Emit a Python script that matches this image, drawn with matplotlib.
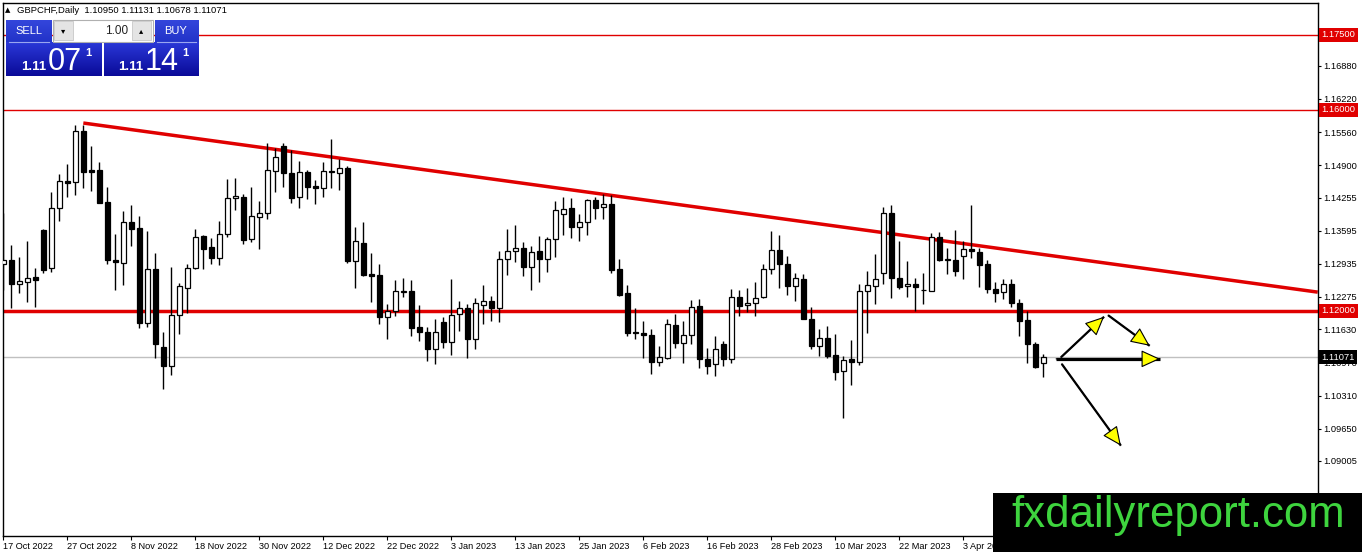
import numpy as np
import matplotlib
matplotlib.use('Agg')
import matplotlib.pyplot as plt
from matplotlib.patches import Rectangle
from matplotlib.colors import LinearSegmentedColormap
import matplotlib.transforms as mtransforms

plt.rcParams['font.family'] = ['Liberation Sans', 'DejaVu Sans']

# ---------------- data ----------------
symbol = "GBPCHF,Daily"
opens = [1.1294, 1.1302, 1.1253, 1.1258, 1.1267, 1.1361, 1.1285, 1.1404, 1.1458, 1.1456,
         1.1558, 1.1480, 1.1480, 1.1417, 1.1302, 1.1296, 1.1377, 1.1365, 1.1176, 1.1283,
         1.1127, 1.1089, 1.1191, 1.1246, 1.1285, 1.1348, 1.1326, 1.1306, 1.1352, 1.1424,
         1.1427, 1.1342, 1.1386, 1.1394, 1.1479, 1.1528, 1.1475, 1.1427, 1.1477, 1.1449,
         1.1444, 1.1478, 1.1474, 1.1485, 1.1300, 1.1334, 1.1273, 1.1271, 1.1187, 1.1200,
         1.1238, 1.1239, 1.1167, 1.1157, 1.1123, 1.1177, 1.1138, 1.1193, 1.1205, 1.1144,
         1.1211, 1.1219, 1.1206, 1.1304, 1.1319, 1.1324, 1.1288, 1.1319, 1.1304, 1.1342,
         1.1392, 1.1404, 1.1366, 1.1376, 1.1421, 1.1406, 1.1413, 1.1283, 1.1236, 1.1158,
         1.1155, 1.1152, 1.1098, 1.1106, 1.1171, 1.1136, 1.1151, 1.1209, 1.1104, 1.1093,
         1.1133, 1.1104, 1.1228, 1.1211, 1.1215, 1.1228, 1.1283, 1.1320, 1.1294, 1.1250,
         1.1263, 1.1184, 1.1130, 1.1145, 1.1112, 1.1079, 1.1103, 1.1098, 1.1240, 1.1250,
         1.1275, 1.1394, 1.1265, 1.1249, 1.1254, 1.1241, 1.1240, 1.1346, 1.1302, 1.1302,
         1.1310, 1.1322, 1.1316, 1.1294, 1.1244, 1.1237, 1.1254, 1.1215, 1.1181, 1.1133,
         1.10950]
highs = [1.1394, 1.1331, 1.1308, 1.1339, 1.1285, 1.1363, 1.1437, 1.1472, 1.1492, 1.1570,
         1.1570, 1.1528, 1.1497, 1.1446, 1.1353, 1.1399, 1.1410, 1.1389, 1.1358, 1.1314,
         1.1157, 1.1288, 1.1256, 1.1293, 1.1362, 1.1351, 1.1344, 1.1379, 1.1462, 1.1464,
         1.1432, 1.1446, 1.1419, 1.1534, 1.1524, 1.1535, 1.1520, 1.1498, 1.1480, 1.1460,
         1.1497, 1.1542, 1.1502, 1.1489, 1.1367, 1.1376, 1.1314, 1.1294, 1.1213, 1.1261,
         1.1266, 1.1262, 1.1211, 1.1167, 1.1184, 1.1188, 1.1264, 1.1219, 1.1213, 1.1225,
         1.1251, 1.1229, 1.1319, 1.1363, 1.1370, 1.1336, 1.1329, 1.1349, 1.1346, 1.1419,
         1.1426, 1.1424, 1.1393, 1.1423, 1.1426, 1.1432, 1.1431, 1.1304, 1.1251, 1.1206,
         1.1180, 1.1164, 1.1130, 1.1183, 1.1193, 1.1180, 1.1221, 1.1224, 1.1125, 1.1150,
         1.1140, 1.1243, 1.1241, 1.1245, 1.1258, 1.1293, 1.1359, 1.1351, 1.1309, 1.1276,
         1.1273, 1.1207, 1.1164, 1.1170, 1.1154, 1.1110, 1.1142, 1.1253, 1.1279, 1.1312,
         1.1406, 1.1411, 1.1339, 1.1299, 1.1266, 1.1276, 1.1354, 1.1356, 1.1324, 1.1361,
         1.1338, 1.1411, 1.1324, 1.1301, 1.1258, 1.1264, 1.1264, 1.1223, 1.1199, 1.1137,
         1.11131]
lows = [1.1241, 1.1205, 1.1236, 1.1218, 1.1208, 1.1276, 1.1278, 1.1379, 1.1427, 1.1431,
        1.1444, 1.1439, 1.1414, 1.1294, 1.1241, 1.1251, 1.1328, 1.1166, 1.1168, 1.1106,
        1.1043, 1.1072, 1.1154, 1.1195, 1.1283, 1.1283, 1.1293, 1.1291, 1.1346, 1.1401,
        1.1333, 1.1336, 1.1323, 1.1383, 1.1437, 1.1446, 1.1415, 1.1405, 1.1423, 1.1413,
        1.1427, 1.1444, 1.1441, 1.1296, 1.1245, 1.1270, 1.1218, 1.1173, 1.1144, 1.1189,
        1.1227, 1.1150, 1.1140, 1.1100, 1.1093, 1.1125, 1.1112, 1.1160, 1.1105, 1.1123,
        1.1173, 1.1180, 1.1178, 1.1271, 1.1297, 1.1270, 1.1241, 1.1257, 1.1277, 1.1308,
        1.1351, 1.1344, 1.1338, 1.1351, 1.1383, 1.1383, 1.1276, 1.1229, 1.1150, 1.1143,
        1.1105, 1.1074, 1.1090, 1.1103, 1.1125, 1.1096, 1.1134, 1.1086, 1.1074, 1.1070,
        1.1089, 1.1096, 1.1190, 1.1197, 1.1189, 1.1226, 1.1274, 1.1246, 1.1231, 1.1220,
        1.1183, 1.1123, 1.1110, 1.1105, 1.1061, 1.0986, 1.1051, 1.1092, 1.1156, 1.1213,
        1.1253, 1.1226, 1.1243, 1.1228, 1.1200, 1.1213, 1.1239, 1.1299, 1.1273, 1.1269,
        1.1263, 1.1306, 1.1248, 1.1236, 1.1217, 1.1223, 1.1208, 1.1150, 1.1096, 1.1086,
        1.10678]
closes = [1.1302, 1.1253, 1.1259, 1.1266, 1.1262, 1.1281, 1.1404, 1.1458, 1.1454, 1.1558,
          1.1477, 1.1477, 1.1415, 1.1301, 1.1298, 1.1377, 1.1363, 1.1176, 1.1283, 1.1134,
          1.1089, 1.1191, 1.1249, 1.1285, 1.1346, 1.1323, 1.1306, 1.1352, 1.1424, 1.1429,
          1.1341, 1.1389, 1.1394, 1.1480, 1.1506, 1.1475, 1.1425, 1.1477, 1.1447, 1.1444,
          1.1479, 1.1476, 1.1485, 1.1300, 1.1339, 1.1271, 1.1270, 1.1188, 1.1200, 1.1239,
          1.1239, 1.1166, 1.1157, 1.1123, 1.1157, 1.1138, 1.1191, 1.1205, 1.1144, 1.1215,
          1.1219, 1.1206, 1.1304, 1.1318, 1.1324, 1.1288, 1.1316, 1.1304, 1.1342, 1.1401,
          1.1403, 1.1366, 1.1376, 1.1421, 1.1404, 1.1412, 1.1281, 1.1231, 1.1156, 1.1155,
          1.1151, 1.1098, 1.1108, 1.1173, 1.1136, 1.1151, 1.1208, 1.1103, 1.1090, 1.1123,
          1.1104, 1.1228, 1.1210, 1.1215, 1.1225, 1.1283, 1.1320, 1.1294, 1.1250, 1.1266,
          1.1184, 1.1130, 1.1145, 1.1110, 1.1077, 1.1102, 1.1098, 1.1240, 1.1251, 1.1263,
          1.1394, 1.1265, 1.1248, 1.1254, 1.1248, 1.1242, 1.1346, 1.1301, 1.1302, 1.1280,
          1.1322, 1.1318, 1.1292, 1.1244, 1.1236, 1.1254, 1.1215, 1.1180, 1.1133, 1.1087,
          1.11071]
date_labels = ["17 Oct 2022", "27 Oct 2022", "8 Nov 2022", "18 Nov 2022", "30 Nov 2022",
               "12 Dec 2022", "22 Dec 2022", "3 Jan 2023", "13 Jan 2023", "25 Jan 2023",
               "6 Feb 2023", "16 Feb 2023", "28 Feb 2023", "10 Mar 2023", "22 Mar 2023",
               "3 Apr 2023"]
date_step = 8
price_ticks = [1.16880, 1.16220, 1.15560, 1.14900, 1.14255, 1.13595, 1.12935, 1.12275,
               1.11630, 1.10970, 1.10310, 1.09650, 1.09005]
level_prices = [1.17500, 1.16000, 1.12000]
level_widths = [1.0, 1.0, 2.5]
bid_price = 1.11071
ask_price = 1.11141
lot_size = "1.00"
trend_x = [10, 164.3]
trend_y = [1.1574, 1.1237]
arrows = [((132.2, 1.1107), (137.6, 1.1188), 1.6),
          ((138.1, 1.1191), (143.3, 1.1130), 1.6),
          ((131.6, 1.1104), (144.6, 1.1104), 2.3),
          ((132.3, 1.1094), (139.7, 1.0931), 1.6)]

# ---------------- figure ----------------
W, H = 1362, 552
fig = plt.figure(figsize=(W / 100, H / 100), dpi=100)
fig.patch.set_facecolor('white')
L_px, R_px, T_px, B_px = 2.7, 1317.5, 3.0, 535.5
ax = fig.add_axes([L_px / W, 1 - B_px / H, (R_px - L_px) / W, (B_px - T_px) / H])
ax_w_px = R_px - L_px

o = np.array(opens); h = np.array(highs); l = np.array(lows); c = np.array(closes)
x = np.arange(len(o))
up = c >= o

ax.vlines(x, l, h, color='black', lw=1.0, zorder=3)
bb = np.minimum(o, c)
bh = np.maximum(np.abs(c - o), 0.00003)
ax.bar(x[up], bh[up], bottom=bb[up], width=0.62, color='white', edgecolor='black',
       linewidth=0.9, zorder=4)
ax.bar(x[~up], bh[~up], bottom=bb[~up], width=0.62, color='black', edgecolor='black',
       linewidth=0.9, zorder=4)

for p, w in zip(level_prices, level_widths):
    ax.axhline(p, color='#e00000', lw=w, zorder=2)
ax.axhline(bid_price, color='#c0c0c0', lw=1.0, zorder=1)
ax.plot(trend_x, trend_y, color='#e00000', lw=2.5, solid_capstyle='butt', zorder=2)

for (p0, p1, lw) in arrows:
    ax.plot([p0[0], p1[0]], [p0[1], p1[1]], color='black', lw=lw,
            solid_capstyle='butt', zorder=6)
    ax.annotate('', xy=p1, xytext=p0,
                arrowprops=dict(arrowstyle='-|>,head_length=1.2,head_width=0.55',
                                mutation_scale=10, fc='#ffff00', ec='black', lw=0.8,
                                shrinkA=0, shrinkB=0),
                zorder=7)

ax.set_xlim(-0.075, 164.275)
ax.set_ylim(1.07520, 1.18132)

ax.set_xticks(x[::date_step][:len(date_labels)])
ax.set_xticklabels(date_labels, ha='left', fontsize=6.6)
off = mtransforms.ScaledTranslation(1.5 / 100, 0, fig.dpi_scale_trans)
for lab in ax.get_xticklabels():
    lab.set_transform(lab.get_transform() + off)
ax.tick_params(axis='x', direction='out', length=3, width=0.8, pad=1.5, colors='black')

ax.yaxis.tick_right()
ax.set_yticks(price_ticks)
ax.set_yticklabels([f'{v:.5f}' for v in price_ticks], fontsize=6.7)
ax.tick_params(axis='y', direction='out', length=2.5, width=0.8, pad=2, colors='black')
for s in ax.spines.values():
    s.set_color('black'); s.set_linewidth(1.0)

btrans = mtransforms.blended_transform_factory(ax.transAxes, ax.transData)
for p in level_prices:
    ax.text(1 + 4 / ax_w_px, p, f'{p:.5f}', transform=btrans, ha='left', va='center',
            fontsize=6.7, color='white', clip_on=False, zorder=20,
            bbox=dict(boxstyle='square,pad=0.25', fc='#e00000', ec='none'))
ax.text(1 + 4 / ax_w_px, bid_price, f'{bid_price:.5f}', transform=btrans, ha='left',
        va='center', fontsize=6.7, color='white', clip_on=False, zorder=20,
        bbox=dict(boxstyle='square,pad=0.25', fc='black', ec='none'))

# ---------------- overlay (panel, title, watermark) ----------------
ov = fig.add_axes([0, 0, 1, 1], zorder=10)
ov.patch.set_alpha(0)
ov.axis('off')


def grad_rect(x0, y0, x1, y1, ctop, cbot):
    cmap = LinearSegmentedColormap.from_list('g', [ctop, cbot])
    ov.imshow(np.linspace(0, 1, 64).reshape(-1, 1), extent=(x0, x1, y1, y0), cmap=cmap,
              aspect='auto', interpolation='bilinear', zorder=2)


# title
ov.text(8, 10.5, '\u25B2', fontsize=5, ha='center', va='center', family='DejaVu Sans')
ov.text(17, 10.8, f'{symbol}  {opens[-1]:.5f} {highs[-1]:.5f} {lows[-1]:.5f} {closes[-1]:.5f}',
        fontsize=6.8, ha='left', va='center', color='black')

# sell / buy upper boxes
grad_rect(6, 20, 52, 42, '#3446dc', '#2233c8')
grad_rect(155, 20, 199, 42, '#3446dc', '#2233c8')
# lower price boxes
grad_rect(6, 42, 102, 76, '#2a38d8', '#0a0a98')
grad_rect(104, 42, 199, 76, '#2a38d8', '#0a0a98')
ov.plot([9, 49], [41.6, 41.6], color='#9aa6f0', lw=0.8, zorder=3)
ov.plot([157, 196], [41.6, 41.6], color='#9aa6f0', lw=0.8, zorder=3)
ov.text(28.5, 31, 'SELL', color='white', fontsize=8, ha='center', va='center', zorder=4)
ov.text(176, 31, 'BUY', color='white', fontsize=8, ha='center', va='center', zorder=4)

# lot control
ov.add_patch(Rectangle((52.5, 19.5), 100.5, 22, fc='white', ec='#b0b0b0', lw=0.8, zorder=3))
ov.add_patch(Rectangle((54, 21), 19, 19, fc='#e4e4e4', ec='#c8c8c8', lw=0.6, zorder=4))
ov.add_patch(Rectangle((132, 21), 19, 19, fc='#e4e4e4', ec='#c8c8c8', lw=0.6, zorder=4))
ov.text(63.5, 30.5, '\u25BE', fontsize=6, ha='center', va='center', family='DejaVu Sans', zorder=5)
ov.text(141.5, 30.5, '\u25B4', fontsize=6, ha='center', va='center', family='DejaVu Sans', zorder=5)
ov.text(128, 30.5, lot_size, fontsize=8.5, ha='right', va='center', color='#222222', zorder=5)

# prices
bid_s = f'{bid_price:.5f}'
ask_s = f'{ask_price:.5f}'
for s, x0 in ((bid_s, 21), (ask_s, 118)):
    ov.text(x0, 70, s[:4], color='white', fontsize=9.5, fontweight='bold', ha='left',
            va='baseline', zorder=5)
    ov.text(x0 + 27, 70.5, s[4:6], color='white', fontsize=22, ha='left', va='baseline', zorder=5)
    ov.text(x0 + 64, 56, s[6], color='white', fontsize=8, fontweight='bold', ha='left',
            va='baseline', zorder=5)

# watermark
ov.add_patch(Rectangle((993, 492.5), 369, 60, fc='black', ec='none', zorder=6))
ov.text(1178, 527, 'fxdailyreport.com', color='#3ed43e', fontsize=31.5, ha='center',
        va='baseline', zorder=7)

ov.set_xlim(0, W)
ov.set_ylim(H, 0)

fig.savefig('out.png', dpi=100, facecolor='white')
